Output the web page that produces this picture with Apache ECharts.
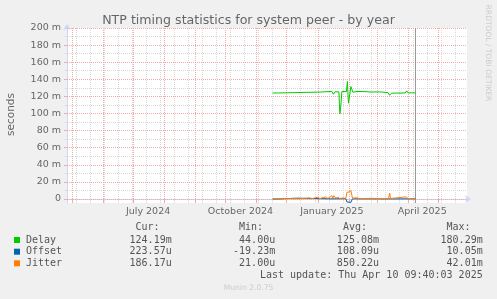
<!DOCTYPE html>
<html>
<head>
<meta charset="utf-8">
<script src="https://cdn.jsdelivr.net/npm/echarts@6/dist/echarts.min.js"></script>
<style>
html, body { margin: 0; padding: 0; background: #f0f0f0; }
#chart { width: 497px; height: 299px; }
</style>
</head>
<body>
<div id="chart"></div>
<script>
// data (values in milliseconds)
var delayDates = ['2024-11-17', '2024-11-23', '2024-11-24', '2025-01-04', '2025-01-05', '2025-01-15',
	'2025-01-16 12:00', '2025-01-18', '2025-01-22', '2025-01-23', '2025-01-24', '2025-01-25',
	'2025-01-29 12:00', '2025-01-30 12:00', '2025-01-31 12:00', '2025-02-03', '2025-02-05', '2025-02-09',
	'2025-02-19', '2025-02-20', '2025-02-21', '2025-03-05', '2025-03-06', '2025-03-07', '2025-03-12',
	'2025-03-13 12:00', '2025-03-15 12:00', '2025-03-29', '2025-03-30 12:00', '2025-04-01', '2025-04-08 08:00'];
var delayValues = [124.0, 124.0, 125.1, 125.1, 125.8, 125.8,
	122.5, 125.3, 125.3, 99.5, 110.0, 125.8,
	125.5, 137.5, 112.0, 131.5, 124.8, 125.8,
	125.5, 126.5, 125.2, 125.2, 126.3, 125.0, 124.3,
	121.3, 123.8, 124.0, 126.5, 124.1, 124.19];

var offsetDates = ['2024-11-17', '2024-11-23', '2024-11-24', '2024-12-11', '2024-12-12', '2025-01-13',
	'2025-01-29', '2025-01-30', '2025-02-03', '2025-02-04 12:00', '2025-03-12 12:00', '2025-03-13 12:00',
	'2025-03-14 12:00', '2025-04-08 08:00'];
var offsetValues = [0.0, 0.0, 1.0, 1.0, 0.0, 0.2,
	0.3, -3.5, -4.0, 0.2, 0.1, -1.6,
	0.1, 0.22];

var jitterDates = ['2024-11-17', '2024-12-01', '2024-12-14', '2024-12-24', '2024-12-26', '2025-01-01',
	'2025-01-03', '2025-01-09', '2025-01-11', '2025-01-15', '2025-01-16', '2025-01-17', '2025-01-19',
	'2025-01-21', '2025-01-23', '2025-01-26', '2025-01-29', '2025-01-30', '2025-02-01', '2025-02-03',
	'2025-02-04 12:00', '2025-02-08', '2025-02-12', '2025-02-22', '2025-03-04', '2025-03-12 12:00',
	'2025-03-13 12:00', '2025-03-14 12:00', '2025-03-30', '2025-04-01', '2025-04-08 08:00'];
var jitterValues = [0.3, 0.5, 0.3, 1.2, 0.4, 2.0,
	0.5, 2.5, 0.6, 3.9, 1.0, 3.9, 1.0,
	2.2, 0.6, 1.2, 0.8, 7.7, 8.2, 9.8,
	0.8, 1.5, 0.5, 0.8, 0.6, 0.6,
	7.0, 0.6, 2.5, 0.5, 0.19];

var nowDate = '2025-04-08 08:00';
var rangeStart = '2024-04-26 06:00';
var rangeEnd = '2025-05-29 14:00';

var monthStarts = ['2024-05-01', '2024-06-01', '2024-07-01', '2024-08-01', '2024-09-01', '2024-10-01',
	'2024-11-01', '2024-12-01', '2025-01-01', '2025-02-01', '2025-03-01', '2025-04-01', '2025-05-01'];
var minorTicks = ['2024-05-05', '2024-05-19', '2024-06-02', '2024-06-16', '2024-06-30', '2024-07-14',
	'2024-07-28', '2024-08-11', '2024-08-25', '2024-09-08', '2024-09-22', '2024-10-06', '2024-10-20',
	'2024-11-03', '2024-11-17', '2024-12-01', '2024-12-15', '2024-12-29', '2025-01-12', '2025-01-26',
	'2025-02-09', '2025-02-23', '2025-03-09', '2025-03-23', '2025-04-06', '2025-04-20', '2025-05-04',
	'2025-05-18'];
var xLabelDates = ['2024-07-16', '2024-10-16', '2025-01-15', '2025-04-15'];
var xLabelTexts = ['July 2024', 'October 2024', 'January 2025', 'April 2025'];

var yMajorTicks = [0, 20, 40, 60, 80, 100, 120, 140, 160, 180, 200];
var yMinorTicks = [10, 30, 50, 70, 90, 110, 130, 150, 170, 190];

var legendNames = ['Delay', 'Offset', 'Jitter'];
var legendColors = ['#00cc00', '#0066b3', '#ff8000'];
var curValues = ['124.19m', '223.57u', '186.17u'];
var minValues = ['44.00u', '-19.23m', '21.00u'];
var avgValues = ['125.08m', '108.09u', '850.22u'];
var maxValues = ['180.29m', '10.05m', '42.01m'];
var lastUpdate = 'Last update: Thu Apr 10 09:40:03 2025';

var t = function(s){
	var p = s.split(' ');
	return Date.parse(p[0] + 'T' + (p[1] || '00:00') + ':00Z');
};

var zip = function(dates, values){
	var out = [];
	for( var i = 0; i < dates.length; i++ ){
		out.push( [t( dates[i] ), values[i]] );
	}
	return out;
};

var majorColor = '#f0aaaa';
var minorColor = '#d8d8d8';
var axisColor = '#cfd6f8';
var fontColor = '#666666';

// grid lines as mark lines
var gridLines = [];
minorTicks.forEach(function(d){
	gridLines.push({xAxis: t(d), lineStyle: {color: minorColor, type: [1, 1], width: 1}});
});
yMinorTicks.forEach(function(v){
	gridLines.push({yAxis: v, lineStyle: {color: minorColor, type: [1, 1], width: 1}});
});
monthStarts.forEach(function(d){
	gridLines.push({xAxis: t(d), lineStyle: {color: majorColor, type: [1, 1], width: 1}});
});
yMajorTicks.forEach(function(v){
	gridLines.push({yAxis: v, lineStyle: {color: majorColor, type: [1, 1], width: 1}});
});
gridLines.push({xAxis: t(nowDate), lineStyle: {color: '#999999', type: 'solid', width: 1}});

var labelMap = {};
xLabelDates.forEach(function(d, i){ labelMap[t(d)] = xLabelTexts[i]; });

var graphics = [];
var rowY = [240, 251.7, 263.3];
var textEl = function(text, x, y, align, font, fill){
	return {
		type: 'text',
		silent: true,
		style: {
			text: text, x: x, y: y, font: font, fill: fill,
			textAlign: align, align: align,
			textVerticalAlign: 'middle', verticalAlign: 'middle'
		}
	};
};
var mono = '10px "DejaVu Sans Mono"';
var legendFill = '#555555';
graphics.push( textEl( 'Cur:', 159.5, 227.7, 'right', mono, legendFill ) );
graphics.push( textEl( 'Min:', 263, 227.7, 'right', mono, legendFill ) );
graphics.push( textEl( 'Avg:', 367, 227.7, 'right', mono, legendFill ) );
graphics.push( textEl( 'Max:', 470.5, 227.7, 'right', mono, legendFill ) );
for( var i = 0; i < legendNames.length; i++ ){
	graphics.push({
		type: 'rect', silent: true,
		shape: {x: 14, y: rowY[i] - 3, width: 6, height: 6},
		style: {fill: legendColors[i]}
	});
	graphics.push( textEl( legendNames[i], 26, rowY[i], 'left', mono, legendFill ) );
	graphics.push( textEl( curValues[i], 171.7, rowY[i], 'right', mono, legendFill ) );
	graphics.push( textEl( minValues[i], 275.2, rowY[i], 'right', mono, legendFill ) );
	graphics.push( textEl( avgValues[i], 379, rowY[i], 'right', mono, legendFill ) );
	graphics.push( textEl( maxValues[i], 482.7, rowY[i], 'right', mono, legendFill ) );
}
graphics.push( textEl( lastUpdate, 482.7, 275.7, 'right', mono, legendFill ) );
graphics.push( textEl( 'Munin 2.0.75', 248.5, 288.3, 'center', '7.6px "DejaVu Sans"', '#cccccc' ) );

var seconds = textEl( 'seconds', 0, 0, 'center', '10.5px "DejaVu Sans"', fontColor );
seconds.x = 10.8; seconds.y = 114.5; seconds.rotation = Math.PI / 2;
graphics.push( seconds );
var watermark = textEl( 'RRDTOOL / TOBI OETIKER', 0, 0, 'center', '7.5px "DejaVu Sans"', '#cccccc' );
watermark.x = 487.5; watermark.y = 53; watermark.rotation = -Math.PI / 2;
graphics.push( watermark );

var chart = echarts.init( document.getElementById( 'chart' ), null, {renderer: 'canvas'} );
chart.setOption({
	backgroundColor: '#f0f0f0',
	animation: false,
	title: {
		text: 'NTP timing statistics for system peer - by year',
		left: 'center',
		top: 9,
		textStyle: {fontFamily: 'DejaVu Sans', fontSize: 12.6, fontWeight: 'normal', color: fontColor}
	},
	grid: {
		left: 67, top: 28, width: 400, height: 175,
		show: true, backgroundColor: '#ffffff', borderWidth: 0
	},
	xAxis: [
		{
			type: 'value',
			position: 'bottom',
			min: t( rangeStart ),
			max: t( rangeEnd ),
			axisLine: {show: true, lineStyle: {color: axisColor, width: 1}, symbol: ['none', 'arrow'], symbolSize: [6, 6], symbolOffset: [0, 4]},
			axisTick: {show: true, customValues: monthStarts.map( t ), length: 3, lineStyle: {color: majorColor}},
			axisLabel: {
				customValues: xLabelDates.map( t ),
				formatter: function(v){ return labelMap[v] || ''; },
				color: fontColor, fontFamily: 'DejaVu Sans', fontSize: 9.5, margin: 4
			},
			splitLine: {show: false}
		},
		{
			type: 'value',
			position: 'bottom',
			min: t( rangeStart ),
			max: t( rangeEnd ),
			axisLine: {show: false},
			axisTick: {show: true, customValues: minorTicks.map( t ), length: 2, lineStyle: {color: minorColor}},
			axisLabel: {show: false},
			splitLine: {show: false}
		}
	],
	yAxis: [
		{
			type: 'value',
			position: 'left',
			min: -4.68,
			max: 200,
			axisLine: {show: true, lineStyle: {color: axisColor, width: 1}, symbol: ['none', 'arrow'], symbolSize: [6, 6], symbolOffset: [0, 4]},
			axisTick: {show: true, customValues: yMajorTicks, length: 3, lineStyle: {color: majorColor}},
			axisLabel: {
				customValues: yMajorTicks,
				formatter: function(v){ return v === 0 ? '0' : v + ' m'; },
				color: fontColor, fontFamily: 'DejaVu Sans', fontSize: 9.5, margin: 6
			},
			splitLine: {show: false}
		},
		{
			type: 'value',
			position: 'left',
			min: -4.68,
			max: 200,
			axisLine: {show: false},
			axisTick: {show: true, customValues: yMinorTicks, length: 2, lineStyle: {color: minorColor}},
			axisLabel: {show: false},
			splitLine: {show: false}
		}
	],
	series: [
		{
			name: 'grid',
			type: 'line',
			data: [],
			silent: true,
			markLine: {
				silent: true,
				symbol: ['none', 'none'],
				label: {show: false},
				animation: false,
				data: gridLines
			}
		},
		{
			name: 'Delay', type: 'line', z: 10, symbol: 'none', silent: true,
			data: zip( delayDates, delayValues ),
			lineStyle: {color: legendColors[0], width: 1}
		},
		{
			name: 'Offset', type: 'line', z: 10, symbol: 'none', silent: true,
			data: zip( offsetDates, offsetValues ),
			lineStyle: {color: legendColors[1], width: 1}
		},
		{
			name: 'Jitter', type: 'line', z: 10, symbol: 'none', silent: true,
			data: zip( jitterDates, jitterValues ),
			lineStyle: {color: legendColors[2], width: 1}
		}
	],
	graphic: graphics
});
</script>
</body>
</html>
